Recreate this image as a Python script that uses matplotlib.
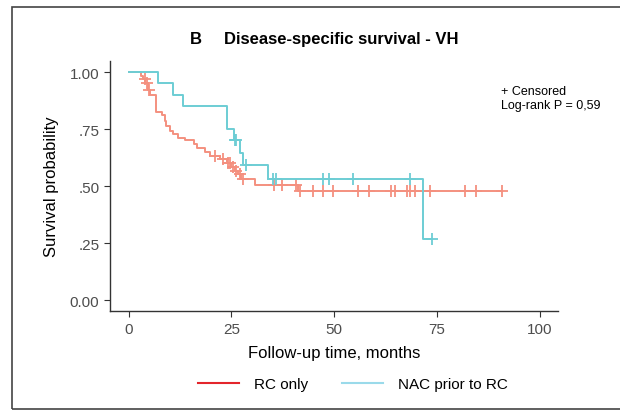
import numpy as np
import matplotlib.pyplot as plt
from matplotlib.patches import Rectangle
from matplotlib.lines import Line2D

# Kaplan-Meier steps
rc_times = [0, 3.0, 3.6, 4.0, 4.6, 5.2, 6.7, 8.0, 8.8, 9.2, 10.0, 10.8, 12.0, 13.6,
            15.8, 16.6, 18.6, 19.8, 22.2, 23.8, 25.0, 25.8, 26.6, 27.2, 30.7, 41.2]
rc_surv = [1.0, 0.984, 0.968, 0.952, 0.92, 0.9, 0.823, 0.81, 0.787, 0.765, 0.743, 0.728,
           0.713, 0.70, 0.684, 0.667, 0.648, 0.634, 0.618, 0.60, 0.585, 0.567, 0.553,
           0.531, 0.507, 0.48]
rc_censor = [3.9, 4.4, 5.0, 20.9, 23.0, 24.1, 24.7, 25.4, 26.2, 27.0, 27.8, 35.4, 37.4,
             40.8, 41.6, 44.8, 47.3, 49.6, 55.8, 58.5, 63.9, 64.7, 67.6, 68.5, 69.6,
             73.2, 81.8, 84.4, 90.8]

nac_times = [0, 7.1, 10.8, 13.1, 23.8, 25.5, 27.0, 27.8, 34.0, 71.6]
nac_surv = [1.0, 0.95, 0.90, 0.85, 0.75, 0.70, 0.646, 0.592, 0.533, 0.267]
nac_censor = [25.8, 26.2, 28.6, 35.0, 35.9, 47.3, 48.7, 54.6, 68.5, 73.7]

rc_col = "#F4907F"
nac_col = "#6DCDD4"

plt.rcParams['font.family'] = ['Liberation Sans', 'DejaVu Sans']

fig = plt.figure(figsize=(6.2, 4.14), dpi=100)
ax = fig.add_axes([0.177, 0.246, 0.723, 0.604])


def km(times, surv, censor, col):
    t = np.array(times + [max(censor)])
    s = np.array(surv + [surv[-1]])
    ax.step(t, s, where='post', color=col, lw=1.4)
    c = np.array(censor)
    idx = np.searchsorted(np.array(times), c, side='right') - 1
    ax.plot(c, np.array(surv)[idx], ls='none', marker='+', ms=8, mew=1.3, color=col)


km(rc_times, rc_surv, rc_censor, rc_col)
km(nac_times, nac_surv, nac_censor, nac_col)

ax.set_xlim(-4.6, 104.4)
ax.set_ylim(-0.048, 1.048)
ax.set_xticks([0, 25, 50, 75, 100])
ax.set_yticks([0, 0.25, 0.5, 0.75, 1.0])
ax.set_yticklabels(["0.00", ".25", ".50", ".75", "1.00"])
for sp in ['top', 'right']:
    ax.spines[sp].set_visible(False)
for sp in ['left', 'bottom']:
    ax.spines[sp].set_color('#333333')
    ax.spines[sp].set_linewidth(1.0)
ax.tick_params(length=4, color='#333333', labelsize=11, labelcolor='#4d4d4d')

ax.set_xlabel("Follow-up time, months", fontsize=12, labelpad=7)
ax.set_ylabel("Survival probability", fontsize=12, labelpad=8)

ax.text(0.873, 0.905, "+ Censored\nLog-rank P = 0,59", transform=ax.transAxes,
        fontsize=9, va='top', ha='left', linespacing=1.2)

fig.text(190 / 620, 0.905, "B", fontsize=12, fontweight='bold', ha='left', va='center')
fig.text(224 / 620, 0.905, "Disease-specific survival - VH", fontsize=12,
         fontweight='bold', ha='left', va='center')

# legend at the bottom
handles = [Line2D([], [], color='#E3252B', lw=1.5),
           Line2D([], [], color='#9ADAEA', lw=1.5)]
fig.legend(handles, ["RC only", "NAC prior to RC"], loc='center',
           bbox_to_anchor=(353 / 620, 0.07), ncol=2, frameon=False, fontsize=11,
           handlelength=2.7, columnspacing=2.2, handletextpad=1.0)

fig.add_artist(Rectangle((12 / 620, 4 / 414), 1.2, 402 / 414, transform=fig.transFigure,
                         fill=False, ec='#444444', lw=1.2))

fig.savefig("out.png", dpi=100)
